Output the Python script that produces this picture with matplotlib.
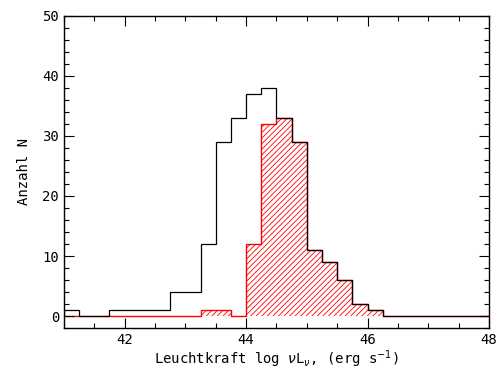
import numpy as np
import matplotlib
matplotlib.use("Agg")
import matplotlib.pyplot as plt
from matplotlib.ticker import MultipleLocator

plt.rcParams.update({
    "font.family": "DejaVu Sans Mono",
    "font.size": 10,
    "hatch.linewidth": 0.6,
})

# bin edges (log nu L_nu), width 0.25 from 41 to 48
edges = np.arange(41.0, 48.0 + 0.001, 0.25)

# full sample (black)
n_all = [1, 0, 0, 1, 1, 1, 1, 4, 4, 12, 29, 33, 37, 38,
         33, 29, 11, 9, 6, 2, 1, 0, 0, 0, 0, 0, 0, 0]
# sub-sample (red, hatched)
n_sub = [0, 0, 0, 0, 0, 0, 0, 0, 0, 1, 1, 0, 12, 32,
         33, 29, 11, 9, 6, 2, 1, 0, 0, 0, 0, 0, 0, 0]

fig = plt.figure(figsize=(4.99, 3.69), dpi=100)
ax = fig.add_axes([0.128, 0.111, 0.852, 0.846])

ax.stairs(n_sub, edges, fill=True, facecolor="none", edgecolor="red",
          hatch="//////", linewidth=0)
ax.stairs(n_sub, edges, color="red", lw=1.0)
ax.stairs(n_all, edges, color="black", lw=0.9)

ax.set_xlim(41, 48)
ax.set_ylim(-2, 50)
ax.xaxis.set_major_locator(MultipleLocator(2))
ax.xaxis.set_minor_locator(MultipleLocator(0.5))
ax.yaxis.set_major_locator(MultipleLocator(10))
ax.yaxis.set_minor_locator(MultipleLocator(2))
ax.tick_params(which="both", direction="in", top=True, right=True, width=0.8)
ax.tick_params(which="major", length=7)
ax.tick_params(which="minor", length=3.5)
for s in ax.spines.values():
    s.set_linewidth(1.0)

ax.set_xlabel(r"Leuchtkraft log $\nu$L$_\nu$, (erg s$^{-1}$)", labelpad=1)
ax.set_ylabel("Anzahl N", labelpad=8)

fig.savefig("out.png", dpi=100)
